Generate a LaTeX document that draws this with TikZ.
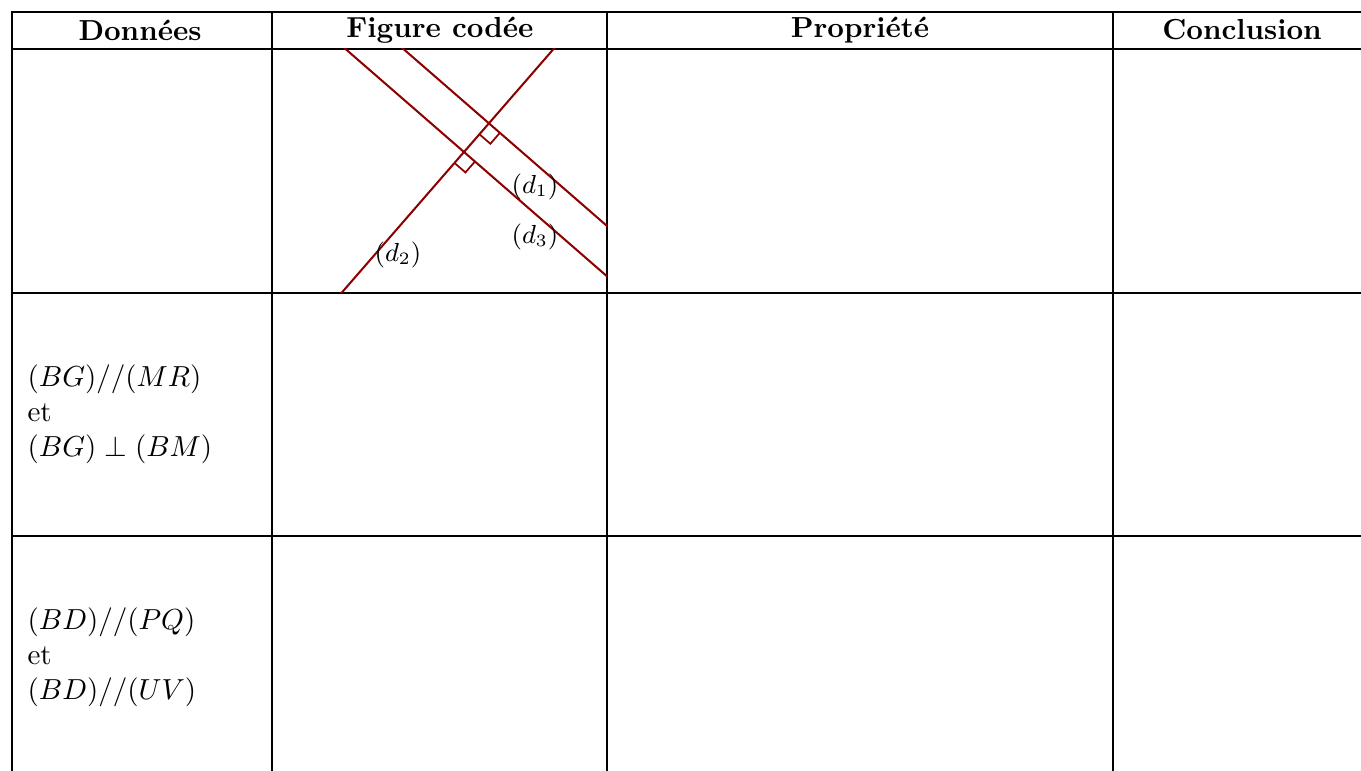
\documentclass[tikz,border=0pt]{standalone}
\begin{document}
\begin{tikzpicture}[x=0.345pt,y=-0.345pt,
    regle/.style={line width=0.75pt},
    droite/.style={red!55!black,line width=0.7pt},
    angdroit/.style={red!55!black,line width=0.6pt},
    etiq/.style={font=\small,inner sep=0pt},
    titre/.style={font=\bfseries,inner sep=0pt},
    donnee/.style={anchor=west,align=left,inner sep=0pt}]
  \useasboundingbox (0,0) rectangle (1361,771);
  % grille du tableau
  \draw[regle] (12,771) -- (12,12) -- (1361,12);
  \draw[regle] (12,49) -- (1361,49);
  \draw[regle] (12,293) -- (1361,293);
  \draw[regle] (12,536) -- (1361,536);
  \draw[regle] (272,12) -- (272,771);
  \draw[regle] (607,12) -- (607,771);
  \draw[regle] (1113,12) -- (1113,771);
  % en-tetes
  \node[titre] (donnees) at (140,30) {Données};
  \node[titre] (figure) at (440,30) {Figure codée};
  \node[titre] (propriete) at (860,30) {Propriété};
  \node[titre] (conclusion) at (1242,30) {Conclusion};
  % donnees
  \node[donnee] (ligne2) at (27,414) {$(BG)//(MR)$\\et\\$(BG)\perp(BM)$};
  \node[donnee] (ligne3) at (27,657) {$(BD)//(PQ)$\\et\\$(BD)//(UV)$};
  % figure codee
  \coordinate (I1) at (464,152);
  \path (I1) ++(-49:38) coordinate (I2);
  \path (I1) ++(221:260) coordinate (d3a) (I1) ++(41:260) coordinate (d3b);
  \path (I2) ++(221:260) coordinate (d1a) (I2) ++(41:260) coordinate (d1b);
  \path (I1) ++(131:260) coordinate (d2a) (I1) ++(-49:260) coordinate (d2b);
  \begin{scope}
    \clip (272,49) rectangle (607,293);
    \draw[droite] (d3a) -- (d3b);
    \draw[droite] (d1a) -- (d1b);
    \draw[droite] (d2a) -- (d2b);
  \end{scope}
  \draw[angdroit] (I1) ++(131:14.5) -- ++(41:14.5) -- ++(-49:14.5);
  \draw[angdroit] (I2) ++(131:14.5) -- ++(41:14.5) -- ++(-49:14.5);
  \node[etiq] (nd1) at (535,187) {$(d_1)$};
  \node[etiq] (nd3) at (535,237) {$(d_3)$};
  \node[etiq] (nd2) at (398,255) {$(d_2)$};
\end{tikzpicture}
\end{document}
